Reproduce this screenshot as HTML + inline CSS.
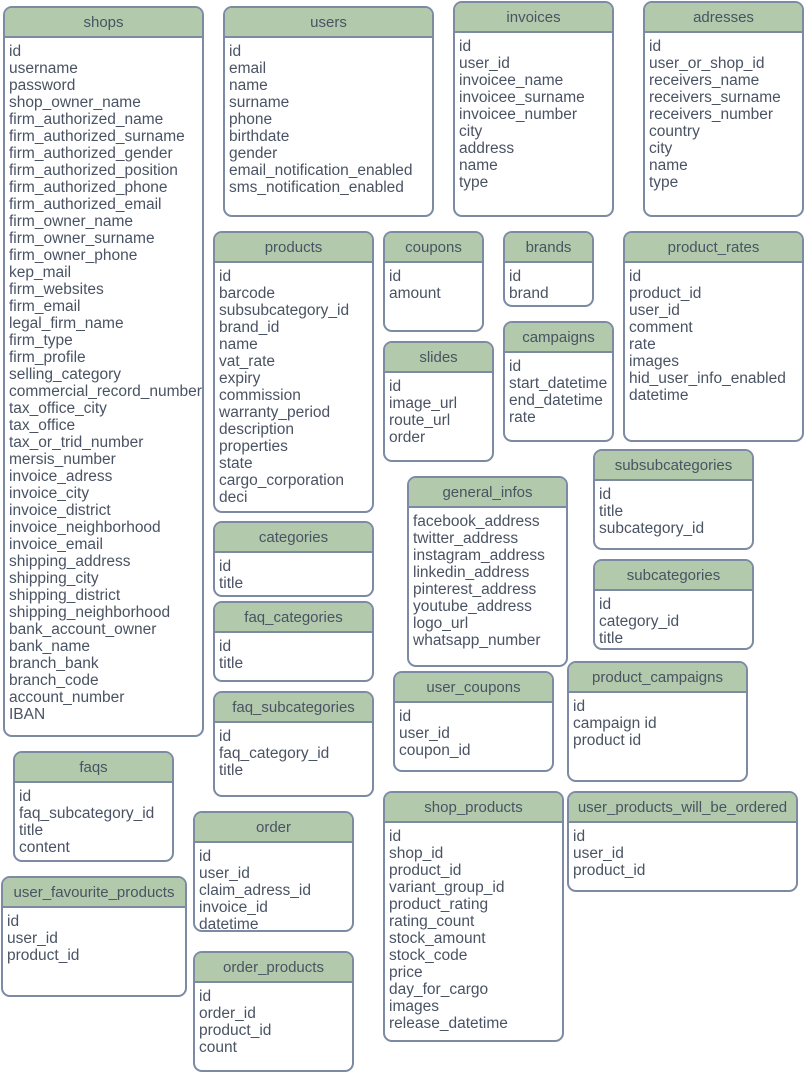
<!DOCTYPE html>
<html><head><meta charset="utf-8"><style>
body{margin:0;width:804px;height:1072px;background:#fff;position:relative;overflow:hidden;font-family:"Liberation Sans",sans-serif;}
.b{position:absolute;box-sizing:border-box;border:2px solid #7c8aa4;border-radius:9px;background:#fff;overflow:hidden;color:#4a5363;}
.h{height:28px;line-height:30px;background:#b2c9ab;border-bottom:2px solid #7c8aa4;text-align:center;font-size:15px;white-space:nowrap;}
.r{padding:5px 0 0 4px;font-size:15.5px;line-height:17px;white-space:pre;}
</style></head><body>
<div class="b" style="left:3px;top:6px;width:201px;height:731px"><div class="h">shops</div><div class="r">id
username
password
shop_owner_name
firm_authorized_name
firm_authorized_surname
firm_authorized_gender
firm_authorized_position
firm_authorized_phone
firm_authorized_email
firm_owner_name
firm_owner_surname
firm_owner_phone
kep_mail
firm_websites
firm_email
legal_firm_name
firm_type
firm_profile
selling_category
commercial_record_number
tax_office_city
tax_office
tax_or_trid_number
mersis_number
invoice_adress
invoice_city
invoice_district
invoice_neighborhood
invoice_email
shipping_address
shipping_city
shipping_district
shipping_neighborhood
bank_account_owner
bank_name
branch_bank
branch_code
account_number
IBAN</div></div>
<div class="b" style="left:223px;top:6px;width:211px;height:211px"><div class="h">users</div><div class="r">id
email
name
surname
phone
birthdate
gender
email_notification_enabled
sms_notification_enabled</div></div>
<div class="b" style="left:453px;top:1px;width:161px;height:216px"><div class="h">invoices</div><div class="r">id
user_id
invoicee_name
invoicee_surname
invoicee_number
city
address
name
type</div></div>
<div class="b" style="left:643px;top:1px;width:161px;height:216px"><div class="h">adresses</div><div class="r">id
user_or_shop_id
receivers_name
receivers_surname
receivers_number
country
city
name
type</div></div>
<div class="b" style="left:213px;top:231px;width:161px;height:282px"><div class="h">products</div><div class="r">id
barcode
subsubcategory_id
brand_id
name
vat_rate
expiry
commission
warranty_period
description
properties
state
cargo_corporation
deci</div></div>
<div class="b" style="left:383px;top:231px;width:101px;height:101px"><div class="h">coupons</div><div class="r">id
amount</div></div>
<div class="b" style="left:503px;top:231px;width:91px;height:76px"><div class="h">brands</div><div class="r">id
brand</div></div>
<div class="b" style="left:623px;top:231px;width:181px;height:211px"><div class="h">product_rates</div><div class="r">id
product_id
user_id
comment
rate
images
hid_user_info_enabled
datetime</div></div>
<div class="b" style="left:503px;top:321px;width:111px;height:121px"><div class="h">campaigns</div><div class="r">id
start_datetime
end_datetime
rate</div></div>
<div class="b" style="left:383px;top:341px;width:111px;height:121px"><div class="h">slides</div><div class="r">id
image_url
route_url
order</div></div>
<div class="b" style="left:593px;top:449px;width:161px;height:101px"><div class="h">subsubcategories</div><div class="r">id
title
subcategory_id</div></div>
<div class="b" style="left:407px;top:476px;width:161px;height:191px"><div class="h">general_infos</div><div class="r">facebook_address
twitter_address
instagram_address
linkedin_address
pinterest_address
youtube_address
logo_url
whatsapp_number</div></div>
<div class="b" style="left:213px;top:521px;width:161px;height:76px"><div class="h">categories</div><div class="r">id
title</div></div>
<div class="b" style="left:593px;top:559px;width:161px;height:91px"><div class="h">subcategories</div><div class="r">id
category_id
title</div></div>
<div class="b" style="left:213px;top:601px;width:161px;height:81px"><div class="h">faq_categories</div><div class="r">id
title</div></div>
<div class="b" style="left:567px;top:661px;width:181px;height:121px"><div class="h">product_campaigns</div><div class="r">id
campaign id
product id</div></div>
<div class="b" style="left:393px;top:671px;width:161px;height:101px"><div class="h">user_coupons</div><div class="r">id
user_id
coupon_id</div></div>
<div class="b" style="left:213px;top:691px;width:161px;height:106px"><div class="h">faq_subcategories</div><div class="r">id
faq_category_id
title</div></div>
<div class="b" style="left:13px;top:751px;width:161px;height:111px"><div class="h">faqs</div><div class="r">id
faq_subcategory_id
title
content</div></div>
<div class="b" style="left:383px;top:791px;width:181px;height:251px"><div class="h">shop_products</div><div class="r">id
shop_id
product_id
variant_group_id
product_rating
rating_count
stock_amount
stock_code
price
day_for_cargo
images
release_datetime</div></div>
<div class="b" style="left:567px;top:791px;width:231px;height:101px"><div class="h">user_products_will_be_ordered</div><div class="r">id
user_id
product_id</div></div>
<div class="b" style="left:193px;top:811px;width:161px;height:121px"><div class="h">order</div><div class="r">id
user_id
claim_adress_id
invoice_id
datetime</div></div>
<div class="b" style="left:1px;top:876px;width:186px;height:121px"><div class="h">user_favourite_products</div><div class="r">id
user_id
product_id</div></div>
<div class="b" style="left:193px;top:951px;width:161px;height:121px"><div class="h">order_products</div><div class="r">id
order_id
product_id
count</div></div>
</body></html>
